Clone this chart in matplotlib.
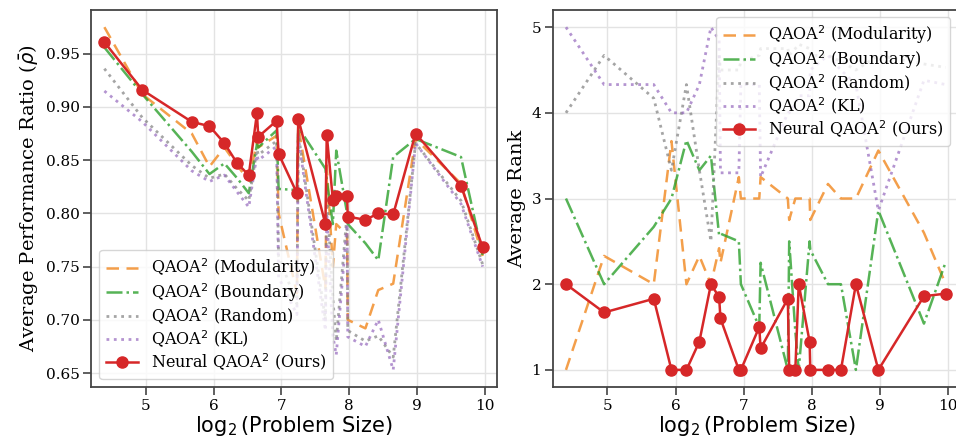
import matplotlib
matplotlib.use('Agg')
import matplotlib.pyplot as plt

plt.rcParams['font.family'] = ['DejaVu Serif']
plt.rcParams['mathtext.fontset'] = 'dejavusans'

# log2 размера задачи (общие для обеих панелей)
x = [4.39, 4.95, 5.68, 5.94, 6.16, 6.35, 6.52, 6.64, 6.66, 6.93, 6.96, 7.23, 7.25,
     7.65, 7.67, 7.76, 7.81, 7.97, 7.98, 8.24, 8.43, 8.65, 8.98, 9.65, 9.97]

# Левая панель: средний коэффициент качества
ratio_mod = [0.975, 0.912, 0.875, 0.844, 0.862, 0.845, 0.831, 0.867, 0.862, 0.873, 0.80, 0.725, 0.882,
             0.73, 0.845, 0.75, 0.79, 0.78, 0.70, 0.692, 0.728, 0.734, 0.870, 0.828, 0.760]
ratio_bnd = [0.956, 0.912, 0.858, 0.837, 0.847, 0.833, 0.819, 0.865, 0.862, 0.878, 0.823, 0.822, 0.881,
             0.842, 0.831, 0.79, 0.859, 0.80, 0.79, 0.772, 0.756, 0.853, 0.870, 0.853, 0.761]
ratio_rnd = [0.936, 0.890, 0.845, 0.833, 0.837, 0.823, 0.812, 0.860, 0.855, 0.868, 0.76, 0.715, 0.875,
             0.70, 0.82, 0.72, 0.68, 0.80, 0.69, 0.68, 0.685, 0.665, 0.866, 0.812, 0.752]
ratio_kl = [0.915, 0.886, 0.840, 0.830, 0.836, 0.820, 0.806, 0.855, 0.850, 0.863, 0.74, 0.705, 0.872,
            0.69, 0.80, 0.685, 0.667, 0.79, 0.684, 0.675, 0.70, 0.653, 0.866, 0.809, 0.750]
ratio_neural = [0.961, 0.916, 0.886, 0.882, 0.866, 0.847, 0.836, 0.894, 0.872, 0.887, 0.856, 0.819, 0.889,
                0.790, 0.874, 0.813, 0.816, 0.816, 0.797, 0.794, 0.800, 0.799, 0.875, 0.826, 0.768]

# Правая панель: средний ранг
rank_mod = [1.0, 2.33, 2.0, 3.67, 2.0, 2.33, 2.0, 2.42, 2.25, 3.25, 3.0, 3.0, 3.25,
            3.0, 2.75, 3.0, 3.0, 3.0, 2.75, 3.17, 3.0, 3.0, 3.56, 2.6, 2.0]
rank_bnd = [3.0, 2.0, 2.67, 3.0, 3.68, 3.33, 3.5, 2.57, 2.59, 2.5, 2.0, 1.5, 2.25,
            1.0, 2.5, 1.45, 1.0, 2.5, 2.4, 2.0, 2.0, 1.0, 2.86, 1.54, 2.26]
rank_rnd = [4.0, 4.67, 4.17, 3.33, 4.33, 3.33, 2.5, 4.67, 4.5, 4.5, 4.6, 4.67, 4.75,
            4.75, 4.67, 4.75, 4.8, 4.75, 4.67, 4.67, 4.6, 4.5, 4.67, 4.57, 4.53]
rank_kl = [5.0, 4.33, 4.33, 4.0, 4.0, 4.33, 5.0, 4.85, 3.3, 3.3, 4.33, 4.33, 3.25,
           4.0, 4.0, 4.1, 4.2, 4.2, 4.5, 4.67, 4.5, 4.33, 2.86, 4.38, 4.33]
rank_neural = [2.0, 1.67, 1.83, 1.0, 1.0, 1.33, 2.0, 1.85, 1.6, 1.0, 1.0, 1.5, 1.25,
               1.83, 1.0, 1.0, 2.0, 1.33, 1.0, 1.0, 1.0, 2.0, 1.0, 1.86, 1.89]

labels = [r'QAOA$^2$ (Modularity)', r'QAOA$^2$ (Boundary)', r'QAOA$^2$ (Random)',
          r'QAOA$^2$ (KL)', r'Neural QAOA$^2$ (Ours)']


def draw(ax, mod, bnd, rnd, kl, neural):
    ax.plot(x, mod, color='#f28e2b', alpha=0.85, lw=1.8, ls=(0, (5, 3)), label=labels[0])
    ax.plot(x, bnd, color='#2ca02c', alpha=0.8, lw=1.8, ls='-.', label=labels[1])
    ax.plot(x, rnd, color='#7f7f7f', alpha=0.7, lw=2, ls=':', label=labels[2])
    ax.plot(x, kl, color='#9467bd', alpha=0.7, lw=2, ls=':', label=labels[3])
    ax.plot(x, neural, color='#d62728', lw=1.8, marker='o', ms=8, label=labels[4])
    ax.set_xlim(4.2, 10.18)
    ax.set_xticks([5, 6, 7, 8, 9, 10])
    ax.grid(True, color='#e3e3e3', lw=1)
    ax.set_axisbelow(True)
    for s in ax.spines.values():
        s.set_color('#444444')
        s.set_linewidth(1.3)
    ax.tick_params(axis='both', direction='out', length=6, width=1.2, color='#444444',
                   labelsize=11, pad=2.5)
    ax.set_xlabel(r'$\log_2$(Problem Size)', family='DejaVu Sans', fontsize=15, labelpad=1)


fig = plt.figure(figsize=(9.56, 4.38), dpi=100)
ax1 = fig.add_axes([0.0957, 0.1164, 0.4241, 0.8607])
ax2 = fig.add_axes([0.5785, 0.1164, 0.4257, 0.8607])

draw(ax1, ratio_mod, ratio_bnd, ratio_rnd, ratio_kl, ratio_neural)
ax1.set_yticks([0.65, 0.70, 0.75, 0.80, 0.85, 0.90, 0.95])
ax1.set_ylabel(r'Average Performance Ratio ($\bar{\rho}$)', fontsize=14)
ax1.legend(loc='lower left', fontsize=11.5, handlelength=2.0, labelspacing=0.1,
           borderaxespad=0.5)

draw(ax2, rank_mod, rank_bnd, rank_rnd, rank_kl, rank_neural)
ax2.set_ylim(0.8, 5.2)
ax2.set_yticks([1, 2, 3, 4, 5])
ax2.set_ylabel('Average Rank', fontsize=14)
ax2.legend(loc='upper right', fontsize=11.5, handlelength=2.0, labelspacing=0.1,
           borderaxespad=0, bbox_to_anchor=(0.975, 0.981))

fig.savefig('out.png', dpi=100)
